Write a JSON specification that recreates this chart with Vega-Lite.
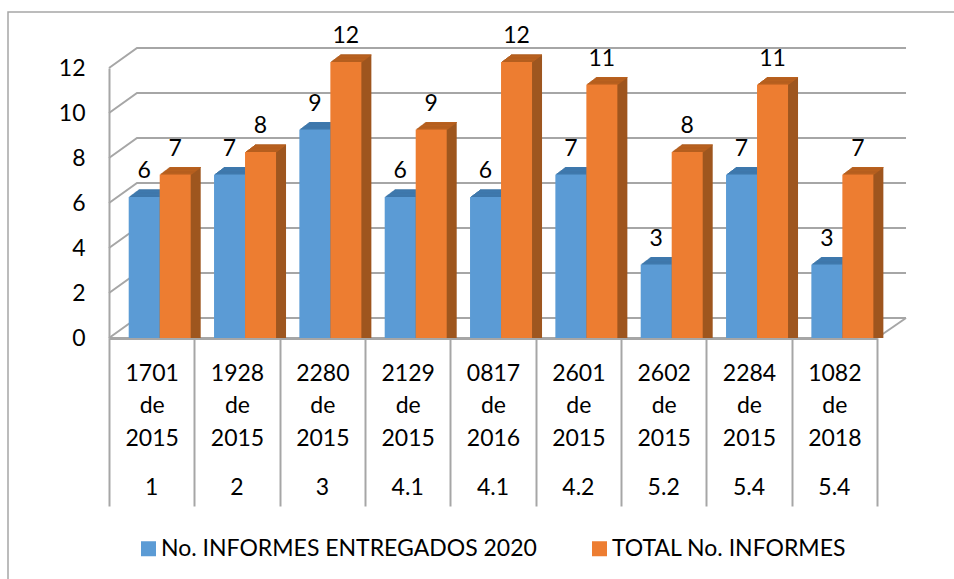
{"$schema":"https://vega.github.io/schema/vega-lite/v6.json","width":956,"height":577,"autosize":"none","padding":{"left":8,"top":12,"right":-10,"bottom":-10},"background":"white","config":{"view":{"stroke":"#a6a6a6","strokeWidth":1.5},"font":"Lato"},
"datasets":{"informes":[
{"norma":"1701 de 2015","grupo":"1","serie":"No. INFORMES ENTREGADOS 2020","valor":6},{"norma":"1701 de 2015","grupo":"1","serie":"TOTAL No. INFORMES","valor":7},
{"norma":"1928 de 2015","grupo":"2","serie":"No. INFORMES ENTREGADOS 2020","valor":7},{"norma":"1928 de 2015","grupo":"2","serie":"TOTAL No. INFORMES","valor":8},
{"norma":"2280 de 2015","grupo":"3","serie":"No. INFORMES ENTREGADOS 2020","valor":9},{"norma":"2280 de 2015","grupo":"3","serie":"TOTAL No. INFORMES","valor":12},
{"norma":"2129 de 2015","grupo":"4.1","serie":"No. INFORMES ENTREGADOS 2020","valor":6},{"norma":"2129 de 2015","grupo":"4.1","serie":"TOTAL No. INFORMES","valor":9},
{"norma":"0817 de 2016","grupo":"4.1","serie":"No. INFORMES ENTREGADOS 2020","valor":6},{"norma":"0817 de 2016","grupo":"4.1","serie":"TOTAL No. INFORMES","valor":12},
{"norma":"2601 de 2015","grupo":"4.2","serie":"No. INFORMES ENTREGADOS 2020","valor":7},{"norma":"2601 de 2015","grupo":"4.2","serie":"TOTAL No. INFORMES","valor":11},
{"norma":"2602 de 2015","grupo":"5.2","serie":"No. INFORMES ENTREGADOS 2020","valor":3},{"norma":"2602 de 2015","grupo":"5.2","serie":"TOTAL No. INFORMES","valor":8},
{"norma":"2284 de 2015","grupo":"5.4","serie":"No. INFORMES ENTREGADOS 2020","valor":7},{"norma":"2284 de 2015","grupo":"5.4","serie":"TOTAL No. INFORMES","valor":11},
{"norma":"1082 de 2018","grupo":"5.4","serie":"No. INFORMES ENTREGADOS 2020","valor":3},{"norma":"1082 de 2018","grupo":"5.4","serie":"TOTAL No. INFORMES","valor":7}],
"pared":[
{"g":"v0","cx":0,"v":0},{"g":"v0","cx":0.328,"v":0.889},{"g":"v0","cx":9.34,"v":0.889},
{"g":"b","cx":9,"v":0},{"g":"b","cx":9.34,"v":0.889},
{"g":"v2","cx":0,"v":2},{"g":"v2","cx":0.328,"v":2.889},{"g":"v2","cx":9.34,"v":2.889},
{"g":"v4","cx":0,"v":4},{"g":"v4","cx":0.328,"v":4.889},{"g":"v4","cx":9.34,"v":4.889},
{"g":"v6","cx":0,"v":6},{"g":"v6","cx":0.328,"v":6.889},{"g":"v6","cx":9.34,"v":6.889},
{"g":"v8","cx":0,"v":8},{"g":"v8","cx":0.328,"v":8.889},{"g":"v8","cx":9.34,"v":8.889},
{"g":"v10","cx":0,"v":10},{"g":"v10","cx":0.328,"v":10.889},{"g":"v10","cx":9.34,"v":10.889},
{"g":"v12","cx":0,"v":12},{"g":"v12","cx":0.328,"v":12.889},{"g":"v12","cx":9.34,"v":12.889}]},
"resolve":{"scale":{"x":"independent"},"axis":{"x":"independent"}},
"layer":[
{"data":{"name":"pared"},"mark":{"type":"line","color":"#a6a6a6","strokeWidth":2,"clip":false},"encoding":{"x":{"field":"cx","type":"quantitative","axis":null,"scale":{"domain":[0,9],"range":[101,869],"nice":false,"zero":false}},"y":{"field":"v","type":"quantitative","title":null,"scale":{"domain":[0,12],"range":[326,56],"nice":false},"axis":{"values":[0,2,4,6,8,10,12],"offset":-101,"grid":false,"ticks":false,"labelPadding":24,"labelFontSize":23,"labelColor":"#000000","labelFont":"Lato","domainColor":"#a6a6a6","domainWidth":2}},"detail":{"field":"g"}}},
{"data":{"name":"informes"},"resolve":{"scale":{"xOffset":"independent"}},"encoding":{
"x":{"field":"norma","type":"nominal","sort":null,"title":null,"scale":{"range":[101,869],"paddingInner":0,"paddingOuter":0},"axis":{"orient":"bottom","offset":-251,"labelAngle":0,"labelExpr":"isValid(datum.value) ? split(datum.value,' ') : ''","labelFontSize":23,"labelFont":"Lato","labelColor":"#000000","labelLineHeight":32.5,"labelPadding":-144,"tickBand":"extent","tickSize":168,"tickColor":"#a6a6a6","tickWidth":2,"domainColor":"#a6a6a6","domainWidth":3,"labelBaseline":"top"}},
"y":{"field":"valor","type":"quantitative","stack":null}},
"layer":[
{"resolve":{"scale":{"xOffset":"independent"}},"encoding":{"color":{"condition":{"test":"datum.serie==='TOTAL No. INFORMES'","value":"#9E561F"},"value":"#3E7098"}},
"layer":[
{"mark":{"type":"bar","yOffset":-13.5,"y2Offset":-13.5},"encoding":{"xOffset":{"field":"serie","sort":null,"scale":{"range":[29.7,91.7],"paddingInner":0,"paddingOuter":0}}}},
{"mark":{"type":"bar","yOffset":-12.75,"y2Offset":-12.75},"encoding":{"xOffset":{"field":"serie","sort":null,"scale":{"range":[28.7,90.7],"paddingInner":0,"paddingOuter":0}}}},
{"mark":{"type":"bar","yOffset":-12,"y2Offset":-12},"encoding":{"xOffset":{"field":"serie","sort":null,"scale":{"range":[27.7,89.7],"paddingInner":0,"paddingOuter":0}}}},
{"mark":{"type":"bar","yOffset":-11.25,"y2Offset":-11.25},"encoding":{"xOffset":{"field":"serie","sort":null,"scale":{"range":[26.7,88.7],"paddingInner":0,"paddingOuter":0}}}},
{"mark":{"type":"bar","yOffset":-10.5,"y2Offset":-10.5},"encoding":{"xOffset":{"field":"serie","sort":null,"scale":{"range":[25.7,87.7],"paddingInner":0,"paddingOuter":0}}}},
{"mark":{"type":"bar","yOffset":-9.75,"y2Offset":-9.75},"encoding":{"xOffset":{"field":"serie","sort":null,"scale":{"range":[24.7,86.7],"paddingInner":0,"paddingOuter":0}}}},
{"mark":{"type":"bar","yOffset":-9,"y2Offset":-9},"encoding":{"xOffset":{"field":"serie","sort":null,"scale":{"range":[23.7,85.7],"paddingInner":0,"paddingOuter":0}}}},
{"mark":{"type":"bar","yOffset":-8.25,"y2Offset":-8.25},"encoding":{"xOffset":{"field":"serie","sort":null,"scale":{"range":[22.7,84.7],"paddingInner":0,"paddingOuter":0}}}},
{"mark":{"type":"bar","yOffset":-7.5,"y2Offset":-7.5},"encoding":{"xOffset":{"field":"serie","sort":null,"scale":{"range":[21.7,83.7],"paddingInner":0,"paddingOuter":0}}}},
{"mark":{"type":"bar","yOffset":-6.75,"y2Offset":-6.75},"encoding":{"xOffset":{"field":"serie","sort":null,"scale":{"range":[20.7,82.7],"paddingInner":0,"paddingOuter":0}}}}]},
{"resolve":{"scale":{"xOffset":"independent"}},"encoding":{"y2":{"field":"valor"},"color":{"condition":{"test":"datum.serie==='TOTAL No. INFORMES'","value":"#B9611F"},"value":"#3F79AE"}},
"layer":[
{"mark":{"type":"bar","yOffset":-13.5,"y2Offset":-12.5},"encoding":{"xOffset":{"field":"serie","sort":null,"scale":{"range":[29.7,91.7],"paddingInner":0,"paddingOuter":0}}}},
{"mark":{"type":"bar","yOffset":-12.75,"y2Offset":-11.75},"encoding":{"xOffset":{"field":"serie","sort":null,"scale":{"range":[28.7,90.7],"paddingInner":0,"paddingOuter":0}}}},
{"mark":{"type":"bar","yOffset":-12,"y2Offset":-11},"encoding":{"xOffset":{"field":"serie","sort":null,"scale":{"range":[27.7,89.7],"paddingInner":0,"paddingOuter":0}}}},
{"mark":{"type":"bar","yOffset":-11.25,"y2Offset":-10.25},"encoding":{"xOffset":{"field":"serie","sort":null,"scale":{"range":[26.7,88.7],"paddingInner":0,"paddingOuter":0}}}},
{"mark":{"type":"bar","yOffset":-10.5,"y2Offset":-9.5},"encoding":{"xOffset":{"field":"serie","sort":null,"scale":{"range":[25.7,87.7],"paddingInner":0,"paddingOuter":0}}}},
{"mark":{"type":"bar","yOffset":-9.75,"y2Offset":-8.75},"encoding":{"xOffset":{"field":"serie","sort":null,"scale":{"range":[24.7,86.7],"paddingInner":0,"paddingOuter":0}}}},
{"mark":{"type":"bar","yOffset":-9,"y2Offset":-8},"encoding":{"xOffset":{"field":"serie","sort":null,"scale":{"range":[23.7,85.7],"paddingInner":0,"paddingOuter":0}}}},
{"mark":{"type":"bar","yOffset":-8.25,"y2Offset":-7.25},"encoding":{"xOffset":{"field":"serie","sort":null,"scale":{"range":[22.7,84.7],"paddingInner":0,"paddingOuter":0}}}},
{"mark":{"type":"bar","yOffset":-7.5,"y2Offset":-6.5},"encoding":{"xOffset":{"field":"serie","sort":null,"scale":{"range":[21.7,83.7],"paddingInner":0,"paddingOuter":0}}}},
{"mark":{"type":"bar","yOffset":-6.75,"y2Offset":-5.75},"encoding":{"xOffset":{"field":"serie","sort":null,"scale":{"range":[20.7,82.7],"paddingInner":0,"paddingOuter":0}}}}]},
{"mark":{"type":"bar","yOffset":-6,"y2Offset":-6},"encoding":{"xOffset":{"field":"serie","sort":null,"scale":{"range":[19.7,81.7],"paddingInner":0,"paddingOuter":0}},"color":{"field":"serie","type":"nominal","sort":null,"scale":{"domain":["No. INFORMES ENTREGADOS 2020","TOTAL No. INFORMES"],"range":["#5B9BD5","#ED7D31"]},"legend":{"orient":"none","legendX":129,"legendY":525,"direction":"horizontal","title":null,"symbolType":"square","symbolSize":225,"symbolStrokeWidth":0,"labelFontSize":23,"labelFont":"Lato","labelColor":"#000000","labelLimit":500,"labelOffset":1,"columnPadding":51,"symbolOpacity":1}}}},
{"mark":{"type":"text","fontSize":23,"font":"Lato","color":"#000000","baseline":"middle","dy":-32},"encoding":{"text":{"field":"valor","type":"quantitative"},"xOffset":{"field":"serie","sort":null,"scale":{"type":"band","range":[19.7,81.7],"paddingInner":0,"paddingOuter":0}}}}
]},
{"data":{"name":"informes"},"transform":[{"filter":"datum.serie==='TOTAL No. INFORMES'"}],"mark":{"type":"text","fontSize":23,"font":"Lato","color":"#000000","baseline":"middle","dy":150},"encoding":{"x":{"field":"norma","type":"nominal","sort":null,"axis":null,"scale":{"range":[101,869],"paddingInner":0,"paddingOuter":0}},"y":{"datum":0},"text":{"field":"grupo","type":"nominal"}}}
]}
